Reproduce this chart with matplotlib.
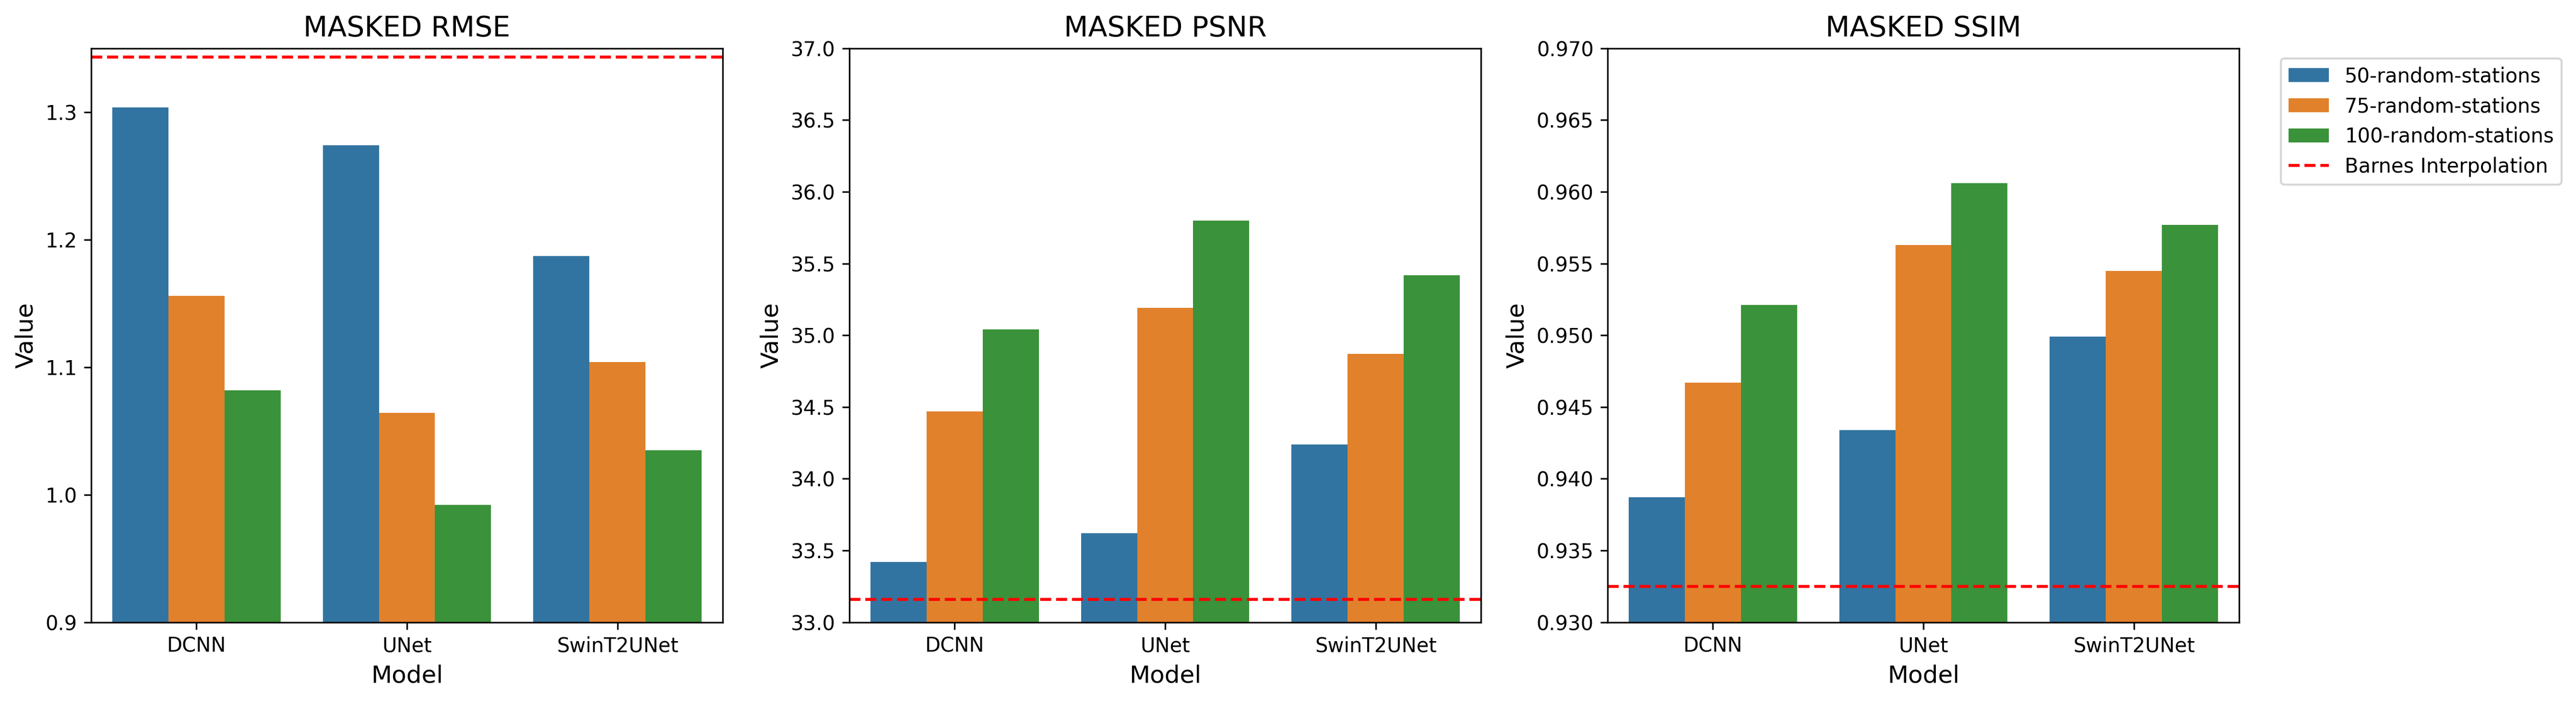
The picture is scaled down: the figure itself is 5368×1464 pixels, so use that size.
import matplotlib
matplotlib.use("Agg")
import matplotlib.pyplot as plt
import numpy as np

models = ["DCNN", "UNet", "SwinT2UNet"]
settings = ["50-random-stations", "75-random-stations", "100-random-stations"]

# values per setting, one entry per model
rmse_50 = [1.3035, 1.274, 1.187]
rmse_75 = [1.156, 1.064, 1.104]
rmse_100 = [1.082, 0.992, 1.035]
rmse_barnes = 1.3433

psnr_50 = [33.42, 33.62, 34.24]
psnr_75 = [34.47, 35.19, 34.87]
psnr_100 = [35.04, 35.80, 35.42]
psnr_barnes = 33.16

ssim_50 = [0.9387, 0.9434, 0.9499]
ssim_75 = [0.9467, 0.9563, 0.9545]
ssim_100 = [0.9521, 0.9606, 0.9577]
ssim_barnes = 0.9325

palette = ["#3274a1", "#e1812c", "#3a923a"]


def metric_panel(ax, title, series, barnes, ylim, yticks):
    x = np.arange(len(models))
    w = 0.8 / len(series)
    for i, (vals, lab) in enumerate(zip(series, settings)):
        ax.bar(x - 0.4 + w * (i + 0.5), vals, width=w, color=palette[i], label=lab)
    ax.axhline(barnes, color="red", linestyle="--", label="Barnes Interpolation")
    ax.set_xlim(-0.5, len(models) - 0.5)
    ax.set_yticks(yticks)
    ax.set_ylim(*ylim)
    ax.set_xticks(x)
    ax.set_xticklabels(models)
    ax.set_title(title, fontsize=14)
    ax.set_xlabel("Model", fontsize=12)
    ax.set_ylabel("Value", fontsize=12)
    return ax


def main():
    fig, axes = plt.subplots(1, 3, figsize=(5368 / 300, 1464 / 300), dpi=300)
    fig.subplots_adjust(left=190 / 5368, right=4666 / 5368,
                        bottom=(1464 - 1297.7) / 1464, top=1 - 100.7 / 1464,
                        wspace=0.2006)

    metric_panel(axes[0], "MASKED RMSE", [rmse_50, rmse_75, rmse_100],
                 rmse_barnes, (0.9, 1.35), [0.9, 1.0, 1.1, 1.2, 1.3])
    metric_panel(axes[1], "MASKED PSNR", [psnr_50, psnr_75, psnr_100],
                 psnr_barnes, (33.0, 37.0), np.arange(33.0, 37.01, 0.5))
    metric_panel(axes[2], "MASKED SSIM", [ssim_50, ssim_75, ssim_100],
                 ssim_barnes, (0.93, 0.97), np.arange(0.93, 0.9701, 0.005))
    axes[2].yaxis.set_major_formatter(matplotlib.ticker.FormatStrFormatter("%.3f"))

    handles, labels = axes[2].get_legend_handles_labels()
    order = [1, 2, 3, 0]
    axes[2].legend([handles[i] for i in order], [labels[i] for i in order],
                   bbox_to_anchor=(1.05, 1), loc="upper left")
    fig.savefig("out.png", dpi=300)


if __name__ == "__main__":
    main()
